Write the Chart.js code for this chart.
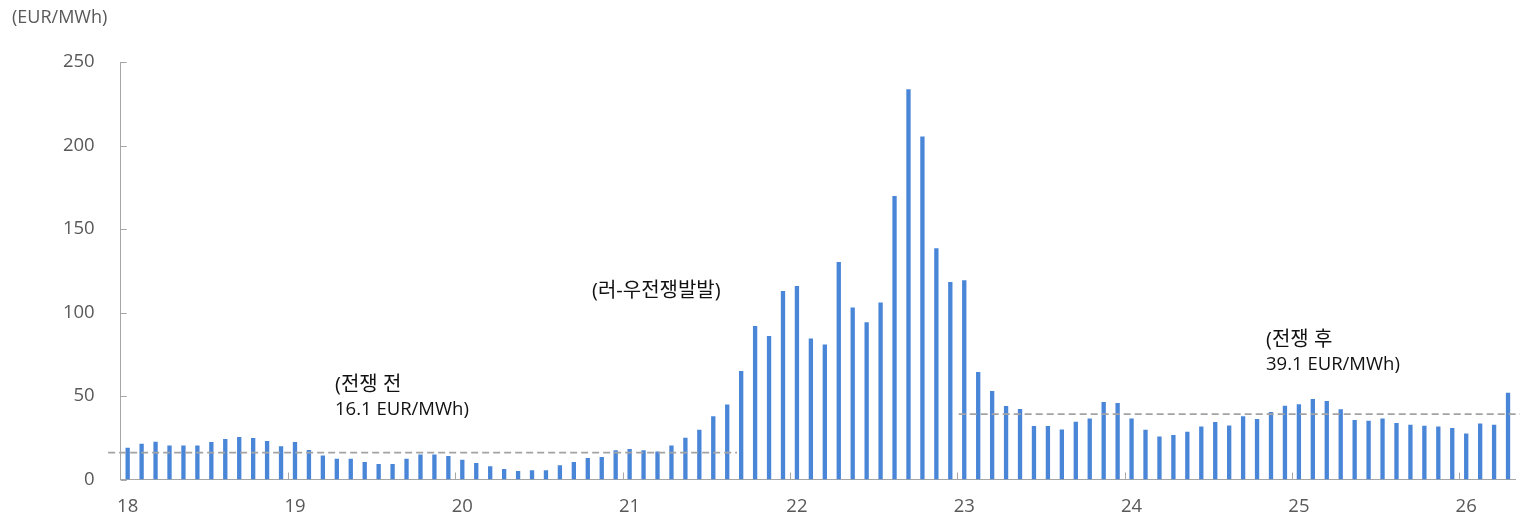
<!DOCTYPE html>
<html>
<head>
<meta charset="utf-8">
<script src="https://cdn.jsdelivr.net/npm/chart.js@4.4.1/dist/chart.umd.min.js"></script>
<style>
  html, body { margin: 0; padding: 0; background: #ffffff; }
  #wrap { width: 1520px; height: 517px; position: relative; }
</style>
</head>
<body>
<div id="wrap"><canvas id="c" width="1520" height="517"></canvas></div>
<script>
// Monthly price, Jan 2018 – Apr 2026 (EUR/MWh)
const startYear = 2018;
const monthCount = 100;
const months = [];
for (let i = 0; i < monthCount; i++) {
  const y = startYear + Math.floor(i / 12);
  const m = (i % 12) + 1;
  months.push(y + '-' + String(m).padStart(2, '0'));
}

const prices = [
  19.0, 21.4, 22.6, 20.4, 20.4, 20.3, 22.4, 24.2, 25.4, 24.8, 23.0, 19.9,   // 2018
  22.4, 17.7, 14.3, 12.5, 12.5, 10.5,  9.3,  9.3, 12.5, 14.9, 14.9, 14.1,   // 2019
  11.9,  9.9,  7.9,  6.3,  5.1,  5.5,  5.5,  8.5, 10.5, 12.9, 13.5, 17.5,   // 2020
  18.3, 17.5, 16.7, 20.4, 25.0, 29.8, 37.9, 44.9, 64.9, 91.9, 85.9, 112.8,  // 2021
  115.8, 84.5, 80.9, 130.2, 103.0, 94.1, 106.0, 169.7, 233.7, 205.4, 138.4, 118.2, // 2022
  119.3, 64.3, 53.0, 44.0, 42.2, 32.0, 32.0, 30.0, 34.6, 36.6, 46.4, 45.8,  // 2023
  36.6, 29.8, 25.8, 26.6, 28.6, 31.8, 34.4, 32.4, 37.8, 36.2, 40.4, 44.2,   // 2024
  45.0, 48.2, 47.0, 42.0, 35.6, 35.2, 36.6, 33.8, 32.8, 32.2, 31.8, 30.8,   // 2025
  27.6, 33.6, 32.8, 51.9                                                    // 2026
];

const yearTickLabels = ['18', '19', '20', '21', '22', '23', '24', '25', '26'];

// Period averages and the month-index spans they cover
const preWarAvg = 16.1;
const postWarAvg = 39.1;
const preWarSpan = [-1.4, 43.7];
const postWarSpan = [59.6, 99.9];

const FONT = "'Open Sans', 'Noto Sans CJK KR', sans-serif";
const AXIS_GRAY = '#a6a6a6';
const TICK_TEXT = '#595959';

// Inner tick marks on both axes plus the unit caption and period notes
const decorations = {
  id: 'decorations',
  afterDraw(chart) {
    const ctx = chart.ctx;
    const area = chart.chartArea;
    const y = chart.scales.y;
    const xl = chart.scales.xl;
    ctx.save();
    ctx.strokeStyle = AXIS_GRAY;
    ctx.lineWidth = 1;
    ctx.beginPath();
    y.ticks.forEach(t => {
      const py = Math.round(y.getPixelForValue(t.value)) + 0.5;
      ctx.moveTo(area.left, py);
      ctx.lineTo(area.left + 6, py);
    });
    for (let k = 1; k < yearTickLabels.length; k++) {
      const px = Math.round(xl.getPixelForValue(12 * k - 0.5)) + 0.5;
      ctx.moveTo(px, area.bottom);
      ctx.lineTo(px, area.bottom - 7);
    }
    ctx.stroke();

    ctx.textBaseline = 'middle';
    ctx.textAlign = 'left';
    ctx.font = '18px ' + FONT;
    ctx.fillStyle = TICK_TEXT;
    ctx.fillText('(EUR/MWh)', 12, 18);

    ctx.fillStyle = '#111111';
    ctx.font = '20px ' + FONT;
    ctx.fillText('(러-우전쟁발발)', 592, 291);
    ctx.fillText('(전쟁 전', 335, 385);
    ctx.fillText('(전쟁 후', 1266, 340);
    ctx.font = '18.5px ' + FONT;
    ctx.fillText('16.1 EUR/MWh)', 335, 410);
    ctx.fillText('39.1 EUR/MWh)', 1266, 365);
    ctx.restore();
  }
};

const avgLine = (span, value) => ({
  type: 'line',
  xAxisID: 'xl',
  yAxisID: 'y',
  data: [{ x: span[0], y: value }, { x: span[1], y: value }],
  borderColor: '#a3a3a3',
  borderWidth: 1.8,
  borderDash: [7, 4],
  pointRadius: 0,
  fill: false,
  clip: false,
  order: 0
});

new Chart(document.getElementById('c'), {
  type: 'bar',
  data: {
    labels: months,
    datasets: [
      {
        type: 'bar',
        data: prices,
        xAxisID: 'x',
        yAxisID: 'y',
        backgroundColor: '#4a86d8',
        borderWidth: 0,
        grouped: false,
        categoryPercentage: 1.0,
        barPercentage: 0.31,
        order: 1
      },
      avgLine(preWarSpan, preWarAvg),
      avgLine(postWarSpan, postWarAvg)
    ]
  },
  options: {
    responsive: false,
    devicePixelRatio: 1,
    animation: false,
    layout: { padding: { top: 62, right: 5, left: 0, bottom: 0 } },
    plugins: {
      legend: { display: false },
      tooltip: { enabled: false },
      title: { display: false }
    },
    scales: {
      x: {
        type: 'category',
        offset: true,
        grid: { display: false, drawTicks: false },
        border: { display: true, color: AXIS_GRAY, width: 1 },
        ticks: {
          autoSkip: false,
          maxRotation: 0,
          minRotation: 0,
          padding: 16,
          color: TICK_TEXT,
          font: { size: 18.5, family: FONT },
          callback: (v, i) => (i % 12 === 0 ? yearTickLabels[i / 12] : '')
        },
        afterFit: s => { s.height = 37.5; s.paddingLeft = 0; s.paddingRight = 0; }
      },
      xl: {
        type: 'linear',
        display: false,
        offset: false,
        bounds: 'data',
        min: -0.5,
        max: monthCount - 0.5,
        afterFit: s => { s.paddingLeft = 0; s.paddingRight = 0; }
      },
      y: {
        min: 0,
        max: 250,
        grid: { display: false, drawTicks: false },
        border: { display: true, color: AXIS_GRAY, width: 1 },
        ticks: {
          stepSize: 50,
          padding: 26,
          color: TICK_TEXT,
          font: { size: 18.5, family: FONT }
        },
        afterFit: s => { s.width = 120.7; }
      }
    }
  },
  plugins: [decorations]
});
</script>
</body>
</html>
